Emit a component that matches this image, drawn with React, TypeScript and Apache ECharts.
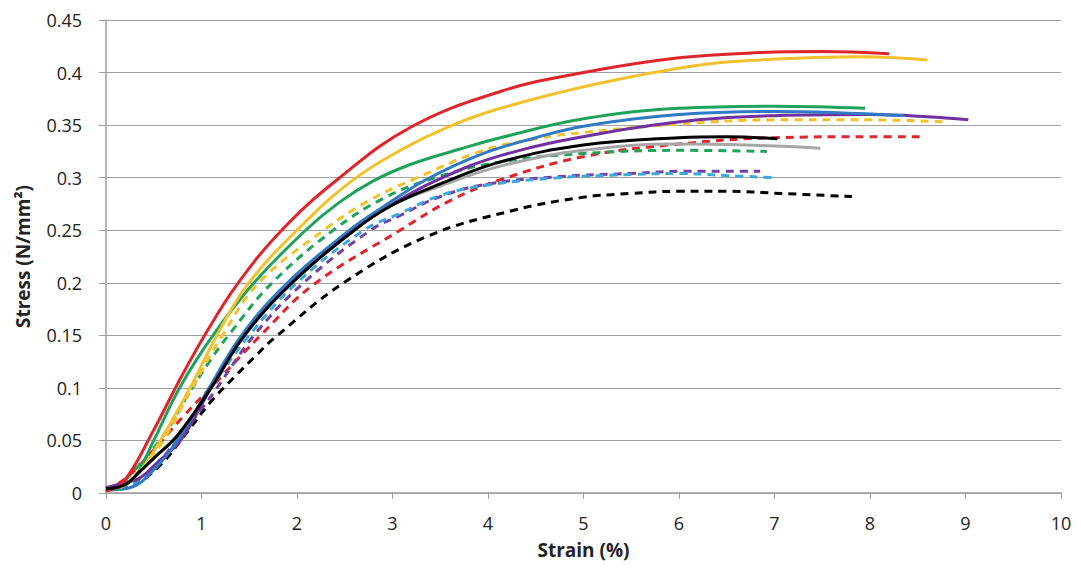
import React, { useEffect, useRef } from "react";
import * as echarts from "echarts";

type Pt = [number, number];

const xTicks = [0, 1, 2, 3, 4, 5, 6, 7, 8, 9, 10];

const redSolid: Pt[] = [[0, 0.002], [0.18, 0.01], [0.5, 0.06], [0.75, 0.104], [1.02, 0.148], [1.37, 0.198], [1.84, 0.25], [2.42, 0.298], [3.19, 0.348], [4.13, 0.382], [5.0, 0.4], [6.0, 0.414], [6.85, 0.419], [7.5, 0.42], [8.2, 0.418]];
const yellowSolid: Pt[] = [[0.15, 0.005], [0.35, 0.02], [0.57, 0.05], [0.88, 0.1], [1.15, 0.148], [1.48, 0.198], [2.0, 0.25], [2.56, 0.296], [3.08, 0.326], [3.55, 0.347], [4.13, 0.366], [5.18, 0.39], [6.2, 0.407], [6.85, 0.412], [7.9, 0.415], [8.6, 0.412]];
const greenSolid: Pt[] = [[0.1, 0.003], [0.3, 0.015], [0.5, 0.05], [0.77, 0.1], [1.12, 0.15], [1.55, 0.2], [2.09, 0.25], [2.45, 0.277], [2.8, 0.297], [3.2, 0.313], [3.7, 0.327], [4.13, 0.338], [5.0, 0.356], [6.0, 0.366], [7.0, 0.368], [7.95, 0.366]];
const blueSolid: Pt[] = [[0, 0.003], [0.25, 0.005], [0.5, 0.022], [0.75, 0.05], [1.08, 0.1], [1.42, 0.15], [1.9, 0.2], [2.55, 0.25], [2.9, 0.272], [3.35, 0.298], [3.92, 0.322], [4.5, 0.338], [5.0, 0.349], [6.0, 0.36], [7.0, 0.363], [8.35, 0.359]];
const purpleSolid: Pt[] = [[0, 0.005], [0.2, 0.01], [0.35, 0.014], [0.55, 0.03], [0.78, 0.05], [1.1, 0.1], [1.45, 0.15], [1.93, 0.2], [2.58, 0.25], [3.0, 0.275], [3.45, 0.297], [4.13, 0.321], [5.18, 0.342], [6.2, 0.355], [7.0, 0.359], [8.0, 0.36], [8.6, 0.358], [9.03, 0.355]];
const graySolid: Pt[] = [[0, 0.004], [0.2, 0.008], [0.5, 0.033], [0.75, 0.055], [1.1, 0.1], [1.45, 0.15], [1.95, 0.2], [2.6, 0.25], [3.0, 0.274], [3.5, 0.292], [4.13, 0.311], [5.0, 0.326], [6.0, 0.332], [6.7, 0.331], [7.48, 0.328]];
const blackSolid: Pt[] = [[0, 0.004], [0.2, 0.008], [0.35, 0.02], [0.5, 0.033], [0.75, 0.055], [1.1, 0.1], [1.45, 0.15], [1.95, 0.2], [2.6, 0.25], [3.0, 0.274], [3.5, 0.294], [4.13, 0.315], [5.0, 0.331], [6.0, 0.338], [6.5, 0.339], [7.03, 0.337]];

const yellowDashed: Pt[] = [[0.15, 0.004], [0.35, 0.02], [0.6, 0.05], [0.9, 0.1], [1.22, 0.15], [1.6, 0.2], [2.28, 0.25], [2.75, 0.278], [3.26, 0.3], [3.92, 0.325], [4.5, 0.337], [5.0, 0.343], [6.0, 0.351], [7.0, 0.355], [8.0, 0.355], [8.78, 0.353]];
const greenDashed: Pt[] = [[0.1, 0.003], [0.39, 0.031], [0.64, 0.06], [0.85, 0.092], [1.09, 0.126], [1.3, 0.152], [1.74, 0.2], [2.38, 0.25], [2.9, 0.28], [3.45, 0.3], [4.13, 0.315], [5.0, 0.323], [6.0, 0.326], [6.92, 0.325]];
const redDashed: Pt[] = [[0, 0.002], [0.22, 0.015], [0.47, 0.038], [0.8, 0.072], [1.2, 0.11], [1.62, 0.15], [2.17, 0.198], [3.08, 0.25], [3.6, 0.278], [4.13, 0.298], [5.0, 0.32], [6.0, 0.332], [7.0, 0.338], [8.0, 0.339], [8.58, 0.339]];
const purpleDashed: Pt[] = [[0, 0.004], [0.2, 0.008], [0.45, 0.02], [0.78, 0.055], [1.0, 0.08], [1.14, 0.097], [1.55, 0.15], [2.07, 0.2], [2.77, 0.25], [3.08, 0.264], [3.5, 0.282], [4.0, 0.294], [4.75, 0.301], [5.5, 0.304], [6.0, 0.306], [6.85, 0.306]];
const lightBlueDashed: Pt[] = [[0, 0.003], [0.25, 0.006], [0.5, 0.022], [0.8, 0.058], [1.1, 0.1], [1.5, 0.15], [2.0, 0.2], [2.7, 0.25], [3.08, 0.266], [3.5, 0.283], [4.0, 0.293], [4.75, 0.3], [5.5, 0.303], [6.0, 0.304], [6.5, 0.302], [7.0, 0.3]];
const blackDashed: Pt[] = [[0, 0.003], [0.25, 0.006], [0.55, 0.025], [0.85, 0.058], [1.09, 0.086], [1.34, 0.11], [1.55, 0.129], [1.77, 0.148], [2.49, 0.2], [3.36, 0.244], [4.27, 0.269], [4.97, 0.281], [5.5, 0.285], [6.0, 0.287], [6.5, 0.287], [7.06, 0.285], [7.81, 0.282]];

const seriesDefs: { name: string; data: Pt[]; color: string; dashed: boolean }[] = [
  { name: "Black dashed", data: blackDashed, color: "#000000", dashed: true },
  { name: "Red dashed", data: redDashed, color: "#E0242B", dashed: true },
  { name: "Purple dashed", data: purpleDashed, color: "#7440A8", dashed: true },
  { name: "Light blue dashed", data: lightBlueDashed, color: "#3BA9DE", dashed: true },
  { name: "Green dashed", data: greenDashed, color: "#1FA35B", dashed: true },
  { name: "Yellow dashed", data: yellowDashed, color: "#F2C12E", dashed: true },
  { name: "Gray", data: graySolid, color: "#A6A6A6", dashed: false },
  { name: "Purple", data: purpleSolid, color: "#7030A0", dashed: false },
  { name: "Blue", data: blueSolid, color: "#2E7BC4", dashed: false },
  { name: "Green", data: greenSolid, color: "#1FA35B", dashed: false },
  { name: "Yellow", data: yellowSolid, color: "#F2C12E", dashed: false },
  { name: "Red", data: redSolid, color: "#E0242B", dashed: false },
  { name: "Black", data: blackSolid, color: "#000000", dashed: false },
];

export default function App() {
  const ref = useRef<HTMLDivElement>(null);
  useEffect(() => {
    if (!ref.current) return;
    const chart = echarts.init(ref.current, undefined, { renderer: "svg" });
    const font = "'Open Sans', 'Noto Sans', sans-serif";
    chart.setOption({
      animation: false,
      grid: { left: 106, right: 20, top: 20, bottom: 82 },
      xAxis: {
        type: "value",
        min: xTicks[0],
        max: xTicks[xTicks.length - 1],
        interval: 1,
        name: "Strain (%)",
        nameLocation: "middle",
        nameGap: 47,
        nameTextStyle: { fontFamily: font, fontWeight: "bold", fontSize: 19, color: "#222" },
        axisLine: { show: true, lineStyle: { color: "#9E9E9E", width: 1.5 } },
        axisTick: { show: true, length: 6, inside: false, lineStyle: { color: "#9E9E9E" } },
        axisLabel: { fontFamily: font, fontSize: 18, color: "#222", margin: 21 },
        splitLine: { show: false },
      },
      yAxis: {
        type: "value",
        min: 0,
        max: 0.45,
        interval: 0.05,
        name: "Stress (N/mm²)",
        nameLocation: "middle",
        nameGap: 74,
        nameTextStyle: { fontFamily: font, fontWeight: "bold", fontSize: 19, color: "#222" },
        axisLine: { show: true, lineStyle: { color: "#9E9E9E", width: 1.5 } },
        axisTick: { show: true, length: 7, inside: false, lineStyle: { color: "#9E9E9E" } },
        axisLabel: {
          fontFamily: font,
          fontSize: 18,
          color: "#222",
          margin: 24,
          formatter: (v: number) => String(+v.toFixed(2)),
        },
        splitLine: { show: true, lineStyle: { color: "#A0A0A0", width: 1.2 } },
      },
      series: seriesDefs.map((s) => ({
        name: s.name,
        type: "line",
        data: s.data,
        smooth: 0.4,
        showSymbol: false,
        symbol: "none",
        lineStyle: {
          color: s.color,
          width: 3,
          type: s.dashed ? [8, 6] : "solid",
          cap: "butt",
        },
        itemStyle: { color: s.color },
      })),
    });
    return () => chart.dispose();
  }, []);
  return (
    <div
      ref={ref}
      style={{ position: "absolute", left: 0, top: 0, width: 1081, height: 575, background: "#fff" }}
    />
  );
}
